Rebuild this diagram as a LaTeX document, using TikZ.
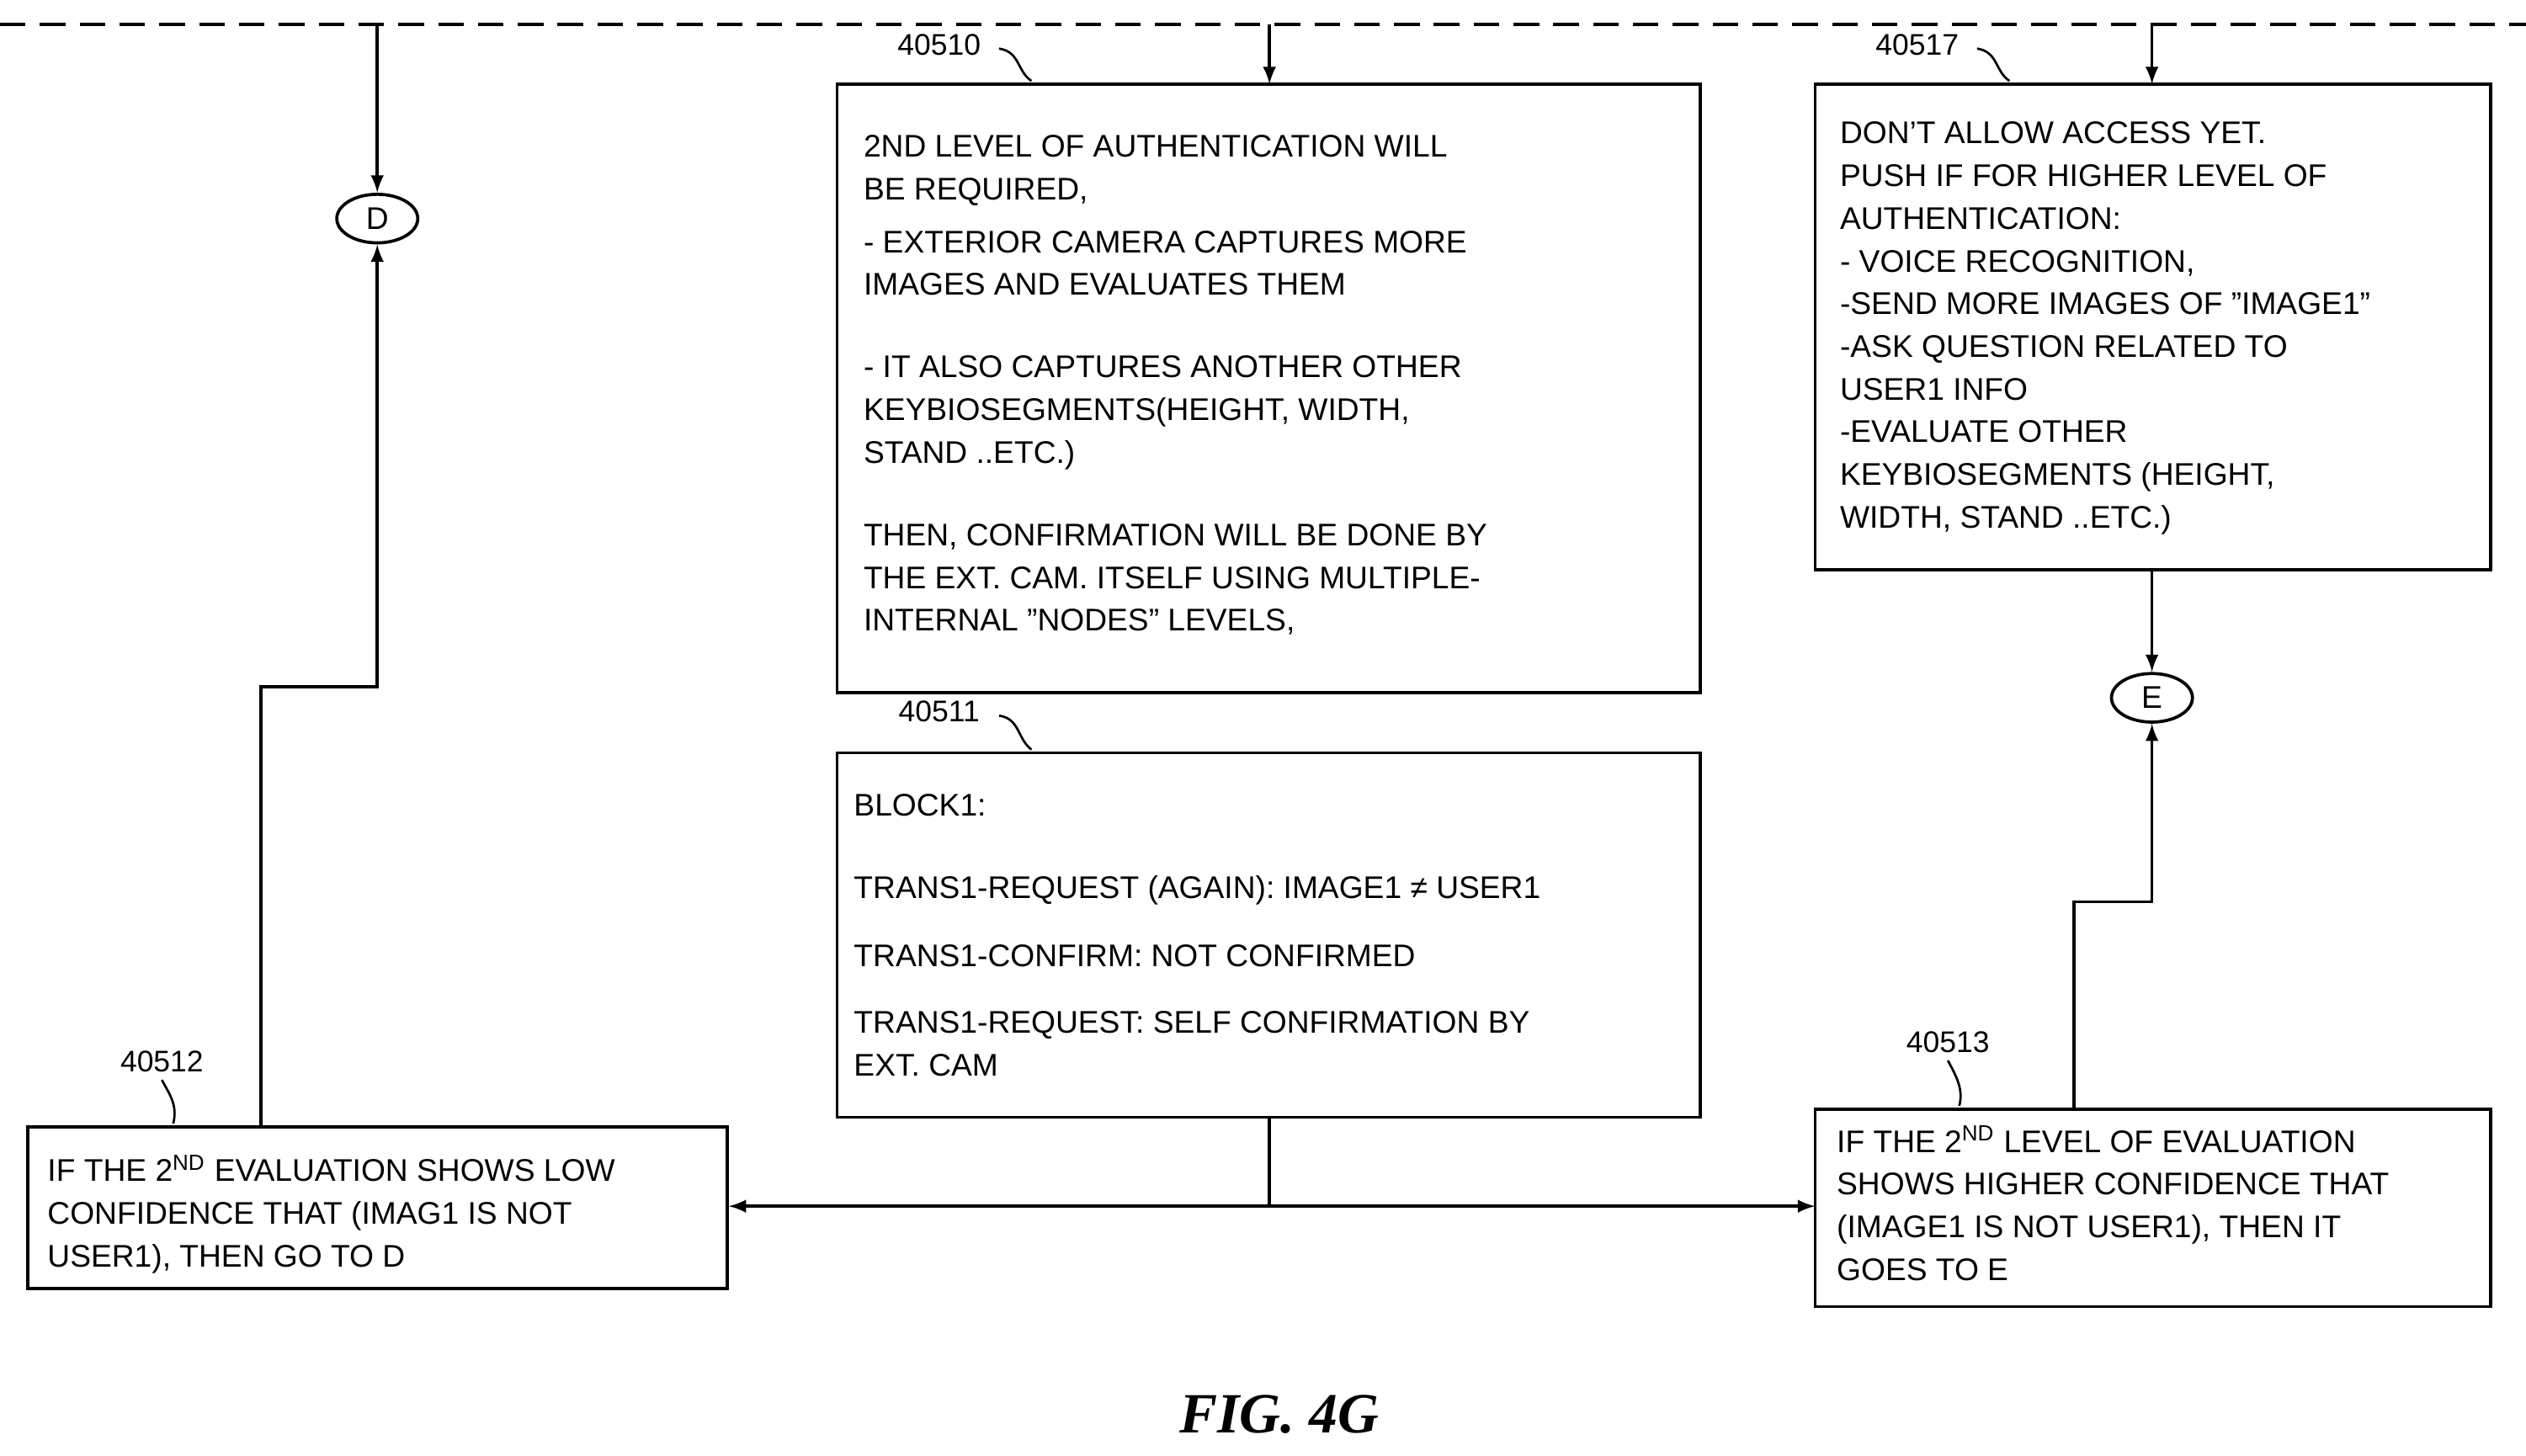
\documentclass[tikz,border=0pt]{standalone}
\usepackage{fontspec}
\usetikzlibrary{shapes.geometric}
\setmainfont{Liberation Sans}
\newfontfamily\figfont{Liberation Serif}
\begin{document}
\begin{tikzpicture}[x=0.02cm,y=-0.02cm,
  box/.style={draw,line width=1.1pt},
  txt/.style={anchor=north west,inner sep=0,align=left,font=\fontsize{11}{15}\selectfont},
  lab/.style={anchor=base,inner sep=0,font=\fontsize{10.5}{12}\selectfont},
  con/.style={line width=1.1pt},
  arr/.style={con,-latex},
  circ/.style={draw,ellipse,line width=1.1pt,minimum width=50*0.02cm,minimum height=30*0.02cm,inner sep=0,font=\fontsize{11}{12}\selectfont}]
\useasboundingbox (0,0) rectangle (1560,899);
\draw[con,dashed,dash pattern=on 9pt off 5pt] (0,15) -- (1560,15);
\coordinate (t1) at (233,15); \coordinate (t2) at (784,15); \coordinate (t3) at (1329,15);
% boxes
\draw[box] (517,52) rectangle (1050,428);
\draw[box] (1121,52) rectangle (1538,352);
\draw[box] (517,465) rectangle (1050,690);
\draw[box] (17,696) rectangle (449,796);
\draw[box] (1121,685) rectangle (1538,807);
\node[circ] (D) at (233,135) {D};
\node[circ] (E) at (1329,431) {E};
\draw[arr] (t1) -- (D.north);
\draw[arr] (t2) -- (784,52);
\draw[arr] (t3) -- (1329,52);
\draw[arr] (1329,352) -- (E.north);
\draw[con] (784,690) -- (784,745);
\draw[arr] (784,745) -- (450,745);
\draw[arr] (784,745) -- (1121,745);
\draw[arr] (161,696) -- (161,424) -- (233,424) -- (D.south);
\draw[arr] (1281,685) -- (1281,557) -- (1329,557) -- (E.south);
% labels
\node[lab] (l1) at (580,34) {40510};
\draw[con,line width=0.8pt] (617,30) .. controls (630,32) and (628,44) .. (637,50);
\node[lab] (l2) at (1184,34) {40517};
\draw[con,line width=0.8pt] (1221,30) .. controls (1234,32) and (1232,44) .. (1241,50);
\node[lab] (l3) at (580,446) {40511};
\draw[con,line width=0.8pt] (617,442) .. controls (630,444) and (628,456) .. (637,463);
\node[lab] (l4) at (100,662) {40512};
\draw[con,line width=0.8pt] (100,667) .. controls (104,675) and (110,682) .. (107,694);
\node[lab] (l5) at (1203,650) {40513};
\draw[con,line width=0.8pt] (1203,655) .. controls (1207,663) and (1213,672) .. (1210,683);
% texts
\node[txt] at (533,83) {2ND LEVEL OF AUTHENTICATION WILL\\BE REQUIRED,\\[3.7pt]
- EXTERIOR CAMERA CAPTURES MORE\\IMAGES AND EVALUATES THEM\\[14pt]
- IT ALSO CAPTURES ANOTHER OTHER\\KEYBIOSEGMENTS(HEIGHT, WIDTH,\\STAND ..ETC.)\\[14pt]
THEN, CONFIRMATION WILL BE DONE BY\\THE EXT. CAM. ITSELF USING MULTIPLE-\\INTERNAL "NODES" LEVELS,};
\node[txt] at (1136,75) {DON'T ALLOW ACCESS YET.\\PUSH IF FOR HIGHER LEVEL OF\\AUTHENTICATION:\\- VOICE RECOGNITION,\\-SEND MORE IMAGES OF "IMAGE1"\\-ASK QUESTION RELATED TO\\USER1 INFO\\-EVALUATE OTHER\\KEYBIOSEGMENTS (HEIGHT,\\WIDTH, STAND ..ETC.)};
\node[txt] at (527,490) {BLOCK1:\\[14pt]
TRANS1-REQUEST (AGAIN): IMAGE1 ≠ USER1\\[9pt]
TRANS1-CONFIRM: NOT CONFIRMED\\[8.5pt]
TRANS1-REQUEST: SELF CONFIRMATION BY\\EXT. CAM};
\node[txt] at (29,713) {IF THE 2\textsuperscript{ND} EVALUATION SHOWS LOW\\CONFIDENCE THAT (IMAG1 IS NOT\\USER1), THEN GO TO D};
\node[txt] at (1134,695) {IF THE 2\textsuperscript{ND} LEVEL OF EVALUATION\\SHOWS HIGHER CONFIDENCE THAT\\(IMAGE1 IS NOT USER1), THEN IT\\GOES TO E};
\node[anchor=base,inner sep=0,font=\figfont\bfseries\itshape\fontsize{20}{24}\selectfont] at (790,885) {FIG. 4G};
\end{tikzpicture}
\end{document}
